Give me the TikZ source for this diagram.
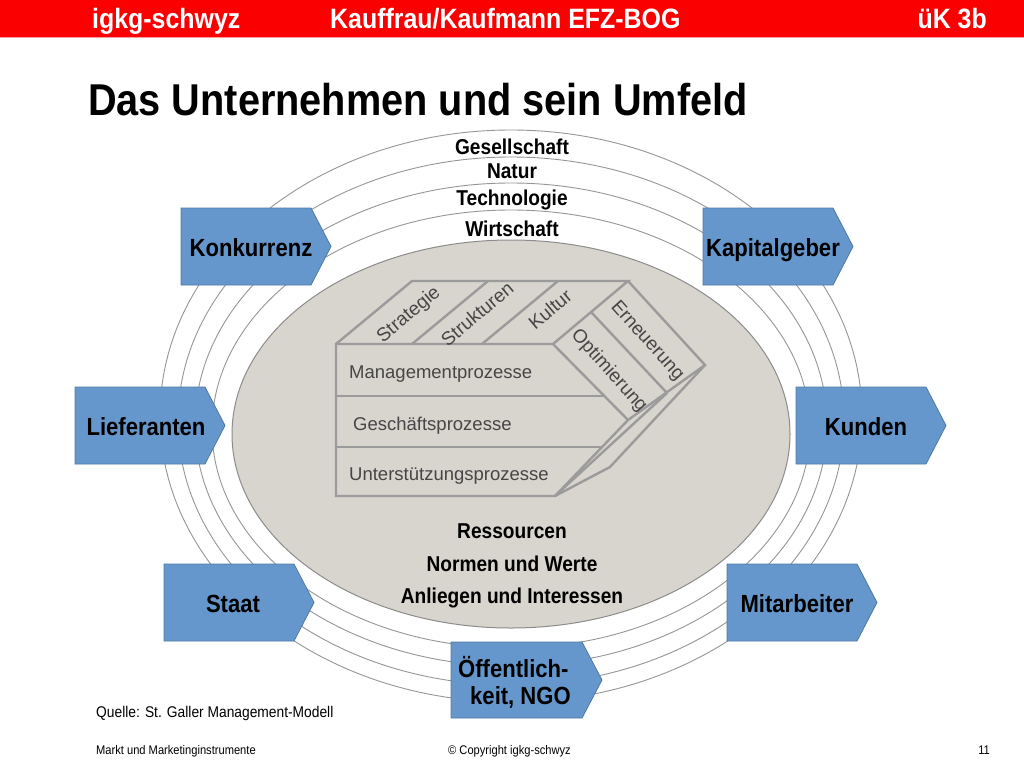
\documentclass[tikz,border=0pt]{standalone}
\usepackage{fontspec}
\setmainfont{Liberation Sans}
\newfontfamily\cf{Liberation Sans}[FakeStretch=0.89]
\definecolor{hdrred}{RGB}{250,0,0}
\definecolor{boxblue}{RGB}{101,151,205}
\definecolor{boxedge}{RGB}{80,120,165}
\definecolor{ringgray}{RGB}{150,150,150}
\definecolor{ellfill}{RGB}{216,212,206}
\definecolor{elledge}{RGB}{140,140,140}
\definecolor{figgray}{RGB}{155,155,155}
\definecolor{figtxt}{RGB}{70,70,70}
\newcommand\mypent[3]{%
  \filldraw[boxshape] (#1,#2) -- ++(130,0) -- ++(20,38.5) -- ++(-20,38.5) -- ++(-130,0) -- cycle;}
\begin{document}
\begin{tikzpicture}[x=1pt,y=-1pt,
  ring/.style={draw=ringgray, line width=0.9pt},
  boxshape/.style={fill=boxblue, draw=boxedge, line width=0.8pt},
  boxtext/.style={font=\cf\bfseries\fontsize{24.8}{28}\selectfont, anchor=base, inner sep=0pt},
  ringtext/.style={font=\cf\bfseries\fontsize{21.5}{24}\selectfont, anchor=base, inner sep=0pt},
  hdrtext/.style={font=\cf\bfseries\fontsize{28}{30}\selectfont, text=white, inner sep=0pt},
  figline/.style={draw=figgray, line width=2.4pt, line join=miter},
  figtext/.style={text=figtxt, font=\fontsize{18.5}{20}\selectfont, inner sep=0pt},
  rottext/.style={text=figtxt, font=\fontsize{19}{21}\selectfont, inner sep=0pt},
  foot/.style={font=\cf\fontsize{12.5}{14}\selectfont, inner sep=0pt}]
\useasboundingbox (0,0) rectangle (1024,768);
\fill[white] (0,0) rectangle (1024,768);
% header
\fill[hdrred] (0,0) rectangle (1024,37);
\draw[red!40, line width=1pt] (0,37.5) -- (1024,37.5);
\node[hdrtext, anchor=base west] (h1) at (92,29) {igkg-schwyz};
\node[hdrtext, anchor=base west] (h2) at (330,29) {Kauffrau/Kaufmann EFZ-BOG};
\node[hdrtext, anchor=base east] (h3) at (987,29) {üK 3b};
% title
\node[font=\cf\bfseries\fontsize{44.6}{48}\selectfont, anchor=base west, inner sep=0pt] (title) at (88,115) {Das Unternehmen und sein Umfeld};
% rings
\draw[ring] (511,416) ellipse [x radius=351, y radius=286];
\draw[ring] (511,421) ellipse [x radius=333, y radius=264];
\draw[ring] (511,424.5) ellipse [x radius=316, y radius=241.5];
\draw[ring] (511,429) ellipse [x radius=299, y radius=219];
% company ellipse
\filldraw[fill=ellfill, draw=elledge, line width=1pt] (511,434) ellipse [x radius=279, y radius=194];
% ring labels
\node[ringtext] (gesellschaft) at (512,154) {Gesellschaft};
\node[ringtext] (natur) at (512,178) {Natur};
\node[ringtext] (technologie) at (512,205) {Technologie};
\node[ringtext] (wirtschaft) at (512,236) {Wirtschaft};
\node[ringtext] (ressourcen) at (512,538) {Ressourcen};
\node[ringtext] (normen) at (512,571) {Normen und Werte};
\node[ringtext] (anliegen) at (512,603) {Anliegen und Interessen};
% central figure
\draw[figline] (336,344) -- (553,344) -- (628,420) -- (555,496) -- (336,496) -- cycle;
\draw[figline] (336,396) -- (604,396);
\draw[figline] (336,447) -- (602,447);
\draw[figline] (336,344) -- (412,281) -- (628,281) -- (553,344);
\draw[figline] (412,344) -- (488,281);
\draw[figline] (482,344) -- (558,281);
\draw[figline] (628,281) -- (705,365) -- (628,420);
\draw[figline] (591,312) -- (667,393);
\draw[figline] (705,365) -- (610,467) -- (555,496);
\draw[figline] (667,393) -- (555,496);
\node[rottext, rotate=40] (strategie) at (409,315) {Strategie};
\node[rottext, rotate=40] (strukturen) at (477,314) {Strukturen};
\node[rottext, rotate=40] (kultur) at (550,309) {Kultur};
\node[rottext, rotate=-48] (optimierung) at (609,371) {Optimierung};
\node[rottext, rotate=-48] (erneuerung) at (647,341) {Erneuerung};
\node[figtext, anchor=base west] (mgmt) at (349,378) {Managementprozesse};
\node[figtext, anchor=base west] (gesch) at (353,430) {Geschäftsprozesse};
\node[figtext, anchor=base west] (unter) at (349,480) {Unterstützungsprozesse};
% stakeholder boxes
\mypent{181}{208}{}
\node[boxtext] (konkurrenz) at (251,256) {Konkurrenz};
\mypent{703}{208}{}
\node[boxtext] (kapitalgeber) at (773,256) {Kapitalgeber};
\mypent{75}{387}{}
\node[boxtext] (lieferanten) at (146,435) {Lieferanten};
\mypent{796}{387}{}
\node[boxtext] (kunden) at (866,435) {Kunden};
\mypent{164}{564}{}
\node[boxtext] (staat) at (233,612) {Staat};
\mypent{727}{564}{}
\node[boxtext] (mitarbeiter) at (797,612) {Mitarbeiter};
\filldraw[boxshape] (451,642) -- ++(131,0) -- ++(20,38) -- ++(-20,38) -- ++(-131,0) -- cycle;
\node[boxtext, anchor=base west] (oeff1) at (458,677) {Öffentlich-};
\node[boxtext, anchor=base west] (oeff2) at (470,704) {keit, NGO};
% source and footer
\node[font=\cf\fontsize{15.5}{17}\selectfont, anchor=base west, inner sep=0pt] (quelle) at (96,717) {Quelle: St. Galler Management-Modell};
\node[foot, anchor=base west] (f1) at (96,754) {Markt und Marketinginstrumente};
\node[foot, anchor=base west] (f2) at (448,754) {© Copyright igkg-schwyz};
\node[foot, anchor=base east] (f3) at (990,754) {11};
\end{tikzpicture}
\end{document}
